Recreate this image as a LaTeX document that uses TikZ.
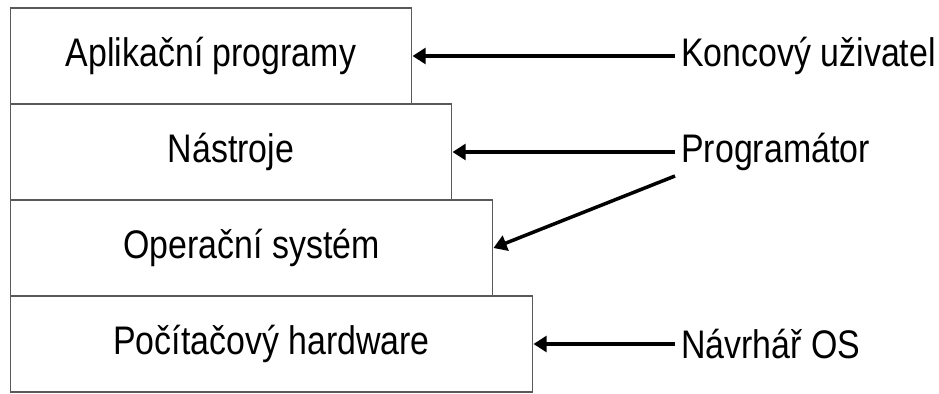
\documentclass[tikz,border=0pt]{standalone}
\usepackage{fontspec}
\setmainfont{Liberation Sans}[FakeStretch=0.85]
\usetikzlibrary{arrows.meta}

\tikzset{
  layer/.style={draw=black!65, line width=0.6pt, minimum height=1.92cm, inner sep=0pt,
    font=\fontsize{22.7}{26}\selectfont},
  user/.style={anchor=west, inner xsep=3.4pt, inner ysep=0pt, font=\fontsize{22.7}{26}\selectfont},
  arr/.style={-{Triangle[length=7.5pt,width=9pt]}, line width=2pt}
}

\begin{document}
\begin{tikzpicture}[x=0.02cm, y=-0.02cm]
    \useasboundingbox (0,0) rectangle (939,394);
    % vrstvy
    \node[layer, minimum width=8.04cm] (apps) at (211, 56) {Aplikační programy};
    \node[layer, minimum width=8.84cm] (tools) at (231, 152) {Nástroje};
    \node[layer, minimum width=9.66cm] (os) at (251.5, 248) {Operační systém};
    \node[layer, minimum width=10.46cm] (hw) at (271.5, 344) {Počítačový hardware};
    % uzivatele
    \node[user] (enduser) at (675, 56) {Koncový uživatel};
    \node[user] (prog) at (675, 152) {Programátor};
    \node[user] (designer) at (675, 344) {Návrhář OS};
    %
    \draw[arr] (enduser.west) -- (apps.east);
    \draw[arr] (prog.west) -- (tools.east);
    \draw[arr] ([shift={(0,24)}]prog.west) -- (os.east);
    \draw[arr] (designer.west) -- (hw.east);
\end{tikzpicture}
\end{document}
